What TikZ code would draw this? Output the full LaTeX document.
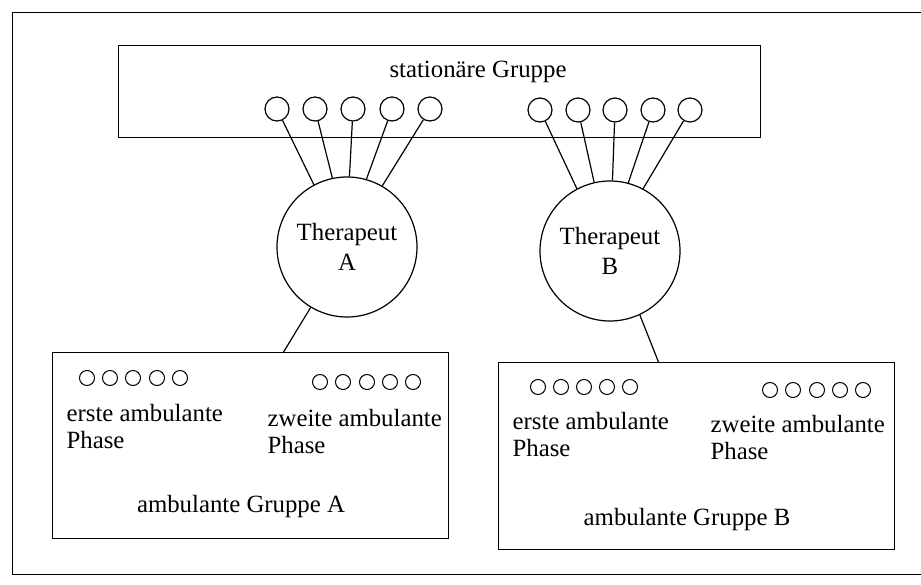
\documentclass[tikz,border=0pt]{standalone}
\usepackage{fontspec}
\setmainfont{Liberation Serif}
\usetikzlibrary{calc}
\begin{document}
\begin{tikzpicture}[x=1pt,y=-1pt,line width=1.2pt,
  sc/.style={draw,circle,minimum size=24pt,inner sep=0pt},
  tc/.style={draw,circle,minimum size=15pt,inner sep=0pt,line width=1pt},
  ther/.style={draw,circle,minimum size=140pt,inner sep=0pt,align=center,font=\fontsize{24.8}{30}\selectfont},
  lbl/.style={inner sep=0pt,font=\fontsize{24.8}{27}\selectfont},
  phase/.style={lbl,align=left,anchor=west},
  boxn/.style={draw,inner sep=0pt,anchor=north west}]
\useasboundingbox (0,0) rectangle (921,585);
% outer frame (right side lies beyond the picture)
\node[boxn,minimum width=930pt,minimum height=562pt] (frame) at (12,12) {};
% stationary group
\node[boxn,minimum width=642pt,minimum height=92pt] (st) at (118,45) {};
\node[lbl] (stl) at (478,72) {stationäre Gruppe};
\foreach \i/\x in {1/277,2/315,3/353,4/392,5/430}{\node[sc] (a\i) at (\x,109) {};}
\foreach \i/\x in {1/540,2/578,3/615,4/653,5/690}{\node[sc] (b\i) at (\x,110) {};}
% therapists
\node[ther] (ta) at (347,247) {Therapeut\\A};
\node[ther] (tb) at (610,251) {Therapeut\\B};
\foreach \i/\a in {1/118,2/102,3/88,4/74,5/60}{\draw (a\i) -- (ta.\a);}
\foreach \i/\a in {1/118,2/103,3/88,4/75,5/62}{\draw (b\i) -- (tb.\a);}
% ambulant group A
\node[boxn,minimum width=396pt,minimum height=186pt] (ga) at (52,352) {};
\foreach \i/\x in {1/87,2/110,3/133,4/157,5/180}{\node[tc] (ga\i) at (\x,378) {};}
\foreach \i/\x in {1/320,2/343,3/367,4/390,5/413}{\node[tc] (gb\i) at (\x,382) {};}
\node[phase] (ga1l) at (66,427) {erste ambulante\\Phase};
\node[phase] (ga2l) at (267,432) {zweite ambulante\\Phase};
\node[lbl] (gal) at (241,507) {ambulante Gruppe A};
% ambulant group B
\node[boxn,minimum width=396pt,minimum height=187pt] (gbx) at (498,362) {};
\foreach \i/\x in {1/538,2/561,3/584,4/607,5/630}{\node[tc] (gc\i) at (\x,387) {};}
\foreach \i/\x in {1/770,2/793,3/817,4/840,5/863}{\node[tc] (gd\i) at (\x,390) {};}
\node[phase] (gb1l) at (512,435) {erste ambulante\\Phase};
\node[phase] (gb2l) at (710,438) {zweite ambulante\\Phase};
\node[lbl] (gbl) at (687,520) {ambulante Gruppe B};
% connectors therapist -> ambulant group
\draw (ta.239) -- ($(ga.north west)!0.583!(ga.north east)$);
\draw (tb.295) -- ($(gbx.north west)!0.404!(gbx.north east)$);
\end{tikzpicture}
\end{document}
